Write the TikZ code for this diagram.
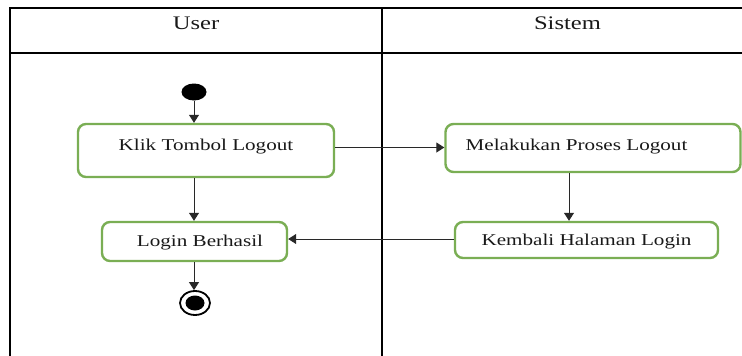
\documentclass[tikz,border=0pt]{standalone}
\usepackage{fontspec}
\setmainfont{Liberation Serif}[FakeStretch=1.28]
\usetikzlibrary{arrows.meta,shapes.geometric}
\definecolor{boxgreen}{RGB}{122,174,84}
\definecolor{txt}{RGB}{25,25,25}
\definecolor{arr}{RGB}{40,40,40}
\tikzset{
  frame/.style={line width=1.2pt, draw=black},
  actbox/.style={draw=boxgreen, line width=2.4pt, rounded corners=8pt, fill=white,
    inner sep=0pt, text=txt, font=\fontsize{16.5pt}{19pt}\selectfont},
  hdr/.style={anchor=base, text=txt, inner sep=0pt, font=\fontsize{19.2pt}{22pt}\selectfont},
  flow/.style={draw=arr, line width=1pt, -{Triangle[width=10pt,length=8pt]}},
}
\begin{document}
\begin{tikzpicture}[x=1pt,y=-1pt]
\useasboundingbox (0,0) rectangle (742,356);
% swimlane frame
\draw[frame] (10,356) -- (10,8) -- (742,8);
\draw[frame] (10,53) -- (742,53);
\draw[frame] (382,8) -- (382,356);
\node[hdr] (hUser) at (196,29.3) {User};
\node[hdr] (hSis) at (567.5,29.3) {Sistem};
% nodes
\node[ellipse, fill=black, minimum width=25pt, minimum height=17pt, inner sep=0pt] (start) at (194,92) {};
\node[actbox, minimum width=256pt, minimum height=53pt, text height=11pt, text depth=11pt] (klik) at (206,150.5) {Klik Tombol Logout};
\node[actbox, minimum width=295pt, minimum height=48pt, text height=11pt, text depth=7pt] (mel) at (593,148) {Melakukan Proses Logout\hspace*{33pt}};
\node[actbox, minimum width=185pt, minimum height=39pt, text height=11pt, text depth=2pt] (login) at (194.5,241.5) {\hspace*{11pt}Login Berhasil};
\node[actbox, minimum width=263pt, minimum height=36pt, text height=11pt, text depth=1pt] (kem) at (586.5,240) {Kembali Halaman Login};
\node[ellipse, draw=black, line width=1.8pt, minimum width=30pt, minimum height=24pt, inner sep=0pt,
  path picture={\fill[black] (path picture bounding box.center) ellipse (9.5pt and 7.5pt);}] (end) at (195,303) {};
\coordinate (cx) at (569,0);
% connectors
\draw[flow] (start) -- (start |- klik.north);
\draw[flow] ([yshift=3pt]klik.east) -- ([yshift=3pt]klik.east -| mel.west);
\draw[flow] (klik.south -| start) -- (login.north -| start);
\draw[flow] (mel.south -| cx) -- (kem.north -| cx);
\draw[flow] ([yshift=1pt]kem.west) -- ([yshift=1pt]kem.west -| login.east);
\draw[flow] (login.south -| start) -- (end.north -| start);
\end{tikzpicture}
\end{document}
